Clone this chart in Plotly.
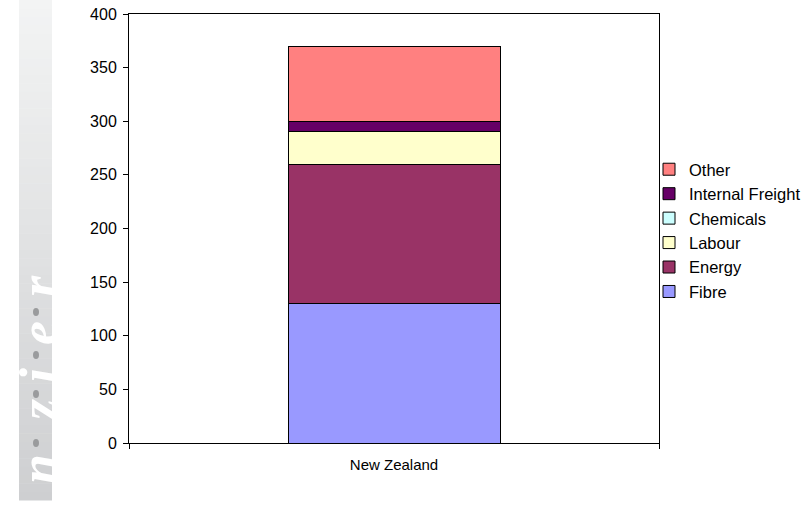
import plotly.graph_objects as go

# Cost components of one stacked column (NZ$ per unit)
categories = ["New Zealand"]
series_names = ["Fibre", "Energy", "Labour", "Chemicals", "Internal Freight", "Other"]
series_values = {
    "Fibre": [130],
    "Energy": [130],
    "Labour": [30],
    "Chemicals": [0],
    "Internal Freight": [10],
    "Other": [70],
}
series_colors = {
    "Fibre": "#9999FF",
    "Energy": "#993366",
    "Labour": "#FFFFCC",
    "Chemicals": "#CCFFFF",
    "Internal Freight": "#660066",
    "Other": "#FF8080",
}
y_ticks = [0, 50, 100, 150, 200, 250, 300, 350, 400]

W, H = 808, 506
L, R, T, B = 129, 659, 14, 443  # plot area in pixels

def px_x(p):
    return (p - L) / (R - L)

def px_y(p):
    return (B - p) / (B - T)

fig = go.Figure()
for name in series_names:
    fig.add_trace(go.Bar(
        x=categories,
        y=series_values[name],
        name=name,
        marker=dict(color=series_colors[name], line=dict(color="#000000", width=1)),
        width=0.4,
    ))

# vertical gradient strip for the brand mark on the left
shapes = []
n_bands = 60
top_px, bot_px = 0, 500
c_top = (243, 244, 244)
c_bot = (206, 207, 209)
for i in range(n_bands):
    y0p = top_px + (bot_px - top_px) * i / n_bands
    y1p = top_px + (bot_px - top_px) * (i + 1) / n_bands
    t = (i + 0.5) / n_bands
    col = tuple(round(c_top[k] + (c_bot[k] - c_top[k]) * t) for k in range(3))
    shapes.append(dict(
        type="rect", xref="paper", yref="paper", layer="below",
        x0=px_x(19), x1=px_x(52), y0=px_y(y1p) - 0.001, y1=px_y(y0p),
        fillcolor="rgb(%d,%d,%d)" % col, line=dict(width=0),
    ))

# brand mark letters (read bottom to top) and the dots between them
mark_letters = [("n", 469), ("z", 411), ("i", 376), ("e", 333), ("r", 286)]
mark_dots = [443, 394, 355, 312]
for yc in mark_dots:
    shapes.append(dict(
        type="circle", xref="paper", yref="paper",
        x0=px_x(33), x1=px_x(39), y0=px_y(yc + 4), y1=px_y(yc - 4),
        fillcolor="#9a9b9d", line=dict(width=0),
    ))

annotations = []
for ch, yc in mark_letters:
    annotations.append(dict(
        text="<b><i>" + ch + "</i></b>",
        xref="paper", yref="paper",
        x=px_x(39), y=px_y(yc),
        showarrow=False, textangle=-90,
        font=dict(family="Liberation Serif, Times New Roman, serif", size=54, color="#ffffff"),
        xanchor="center", yanchor="middle",
    ))

fig.update_layout(
    width=W, height=H,
    margin=dict(l=L, r=W - R, t=T, b=H - B, pad=0, autoexpand=False),
    paper_bgcolor="white",
    plot_bgcolor="white",
    barmode="stack",
    font=dict(family="Liberation Sans, Arial, sans-serif", size=15, color="#000000"),
    shapes=shapes,
    annotations=annotations,
    legend=dict(
        traceorder="reversed",
        x=px_x(649), y=px_y(152),
        xanchor="left", yanchor="top",
        font=dict(size=16.5),
        itemwidth=30,
        bgcolor="rgba(0,0,0,0)",
    ),
    xaxis=dict(
        showline=True, linecolor="#000000", linewidth=1, mirror=True,
        ticks="outside", ticklen=5, tickcolor="#000000", tickson="boundaries",
        showgrid=False, zeroline=False,
        tickfont=dict(size=15),
        ticklabelstandoff=8,
    ),
    yaxis=dict(
        range=[0, 400], tickvals=y_ticks,
        showline=True, linecolor="#000000", linewidth=1, mirror=True,
        ticks="outside", ticklen=5, tickcolor="#000000",
        showgrid=False, zeroline=False,
        tickfont=dict(size=16),
        ticklabelstandoff=3,
    ),
)

fig.write_html("out.html")
